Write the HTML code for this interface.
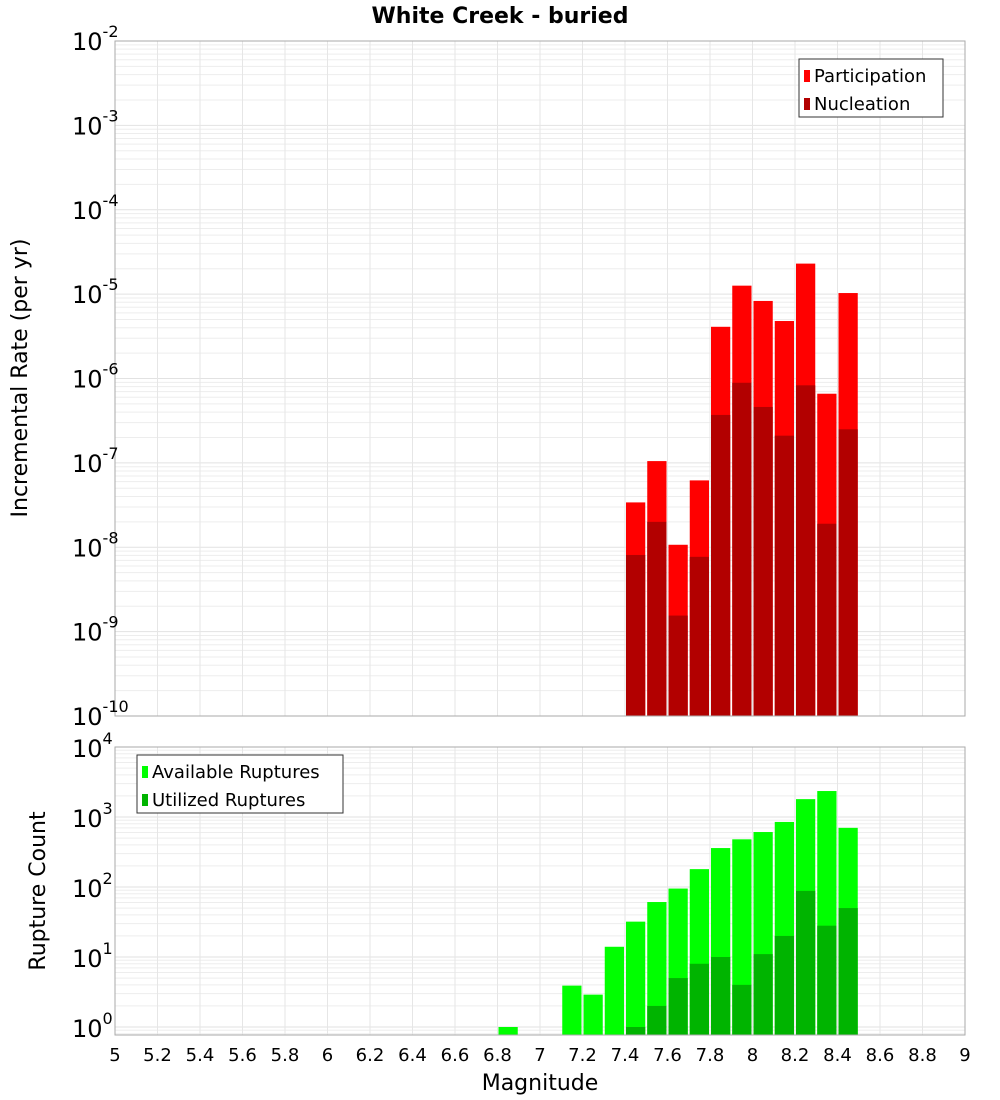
<!DOCTYPE html>
<html><head><meta charset="utf-8"><style>
body{margin:0;background:#fff;width:1000px;height:1100px;overflow:hidden}
svg{display:block;font-family:"DejaVu Sans","Liberation Sans",sans-serif}
</style></head><body>
<svg id="chart" width="1000" height="1100" xmlns="http://www.w3.org/2000/svg">
<text x="500" y="23" text-anchor="middle" font-size="22" font-weight="bold">White Creek - buried</text>
<text transform="translate(27,378) rotate(-90)" text-anchor="middle" font-size="22">Incremental Rate (per yr)</text>
<text transform="translate(45,891) rotate(-90)" text-anchor="middle" font-size="22">Rupture Count</text>
<text x="540" y="1090" text-anchor="middle" font-size="22">Magnitude</text>
</svg>
<script>
const mags=[7.45,7.55,7.65,7.75,7.85,7.95,8.05,8.15,8.25,8.35,8.45];
const participation=[3.4e-8,1.05e-7,1.07e-8,6.2e-8,4.1e-6,1.26e-5,8.3e-6,4.8e-6,2.3e-5,6.6e-7,1.03e-5];
const nucleation=[8.1e-9,2e-8,1.55e-9,7.7e-9,3.7e-7,8.9e-7,4.6e-7,2.1e-7,8.3e-7,1.9e-8,2.5e-7];
const countMags=[6.85,7.15,7.25,7.35,7.45,7.55,7.65,7.75,7.85,7.95,8.05,8.15,8.25,8.35,8.45];
const available=[1,3.9,2.9,14,32,61,95,180,360,480,610,850,1800,2350,700];
const utilMags=[7.45,7.55,7.65,7.75,7.85,7.95,8.05,8.15,8.25,8.35,8.45];
const utilized=[1,2,5,8,10,4,11,20,88,28,50];
const xTicks=[5,5.2,5.4,5.6,5.8,6,6.2,6.4,6.6,6.8,7,7.2,7.4,7.6,7.8,8,8.2,8.4,8.6,8.8,9];
const topDecades=[-2,-3,-4,-5,-6,-7,-8,-9,-10];
const botDecades=[4,3,2,1,0];

const NS="http://www.w3.org/2000/svg";
const svg=document.getElementById('chart');
const X0=115,X1=965;
const x=m=>X0+(m-5)/4*(X1-X0);
const T={top:41,bot:716,min:-10,max:-2};
const B={top:747,bot:1035,max:4,ppd:70};
const yT=v=>T.top+(T.max-Math.log10(v))*(T.bot-T.top)/(T.max-T.min);
const yB=v=>Math.min(B.bot,B.top+(B.max-Math.log10(v))*B.ppd);
function el(tag,attrs,parent){const e=document.createElementNS(NS,tag);for(const k in attrs)e.setAttribute(k,attrs[k]);(parent||svg).appendChild(e);return e;}

function panel(P,yf,decs,name){
  const g=el('g',{});
  
  
  el('rect',{x:X0,y:P.top,width:X1-X0,height:P.bot-P.top,fill:'#fff'},g);
  const lo=Math.min(...decs)-1,hi=Math.max(...decs);
  for(let d=lo;d<=hi;d++)for(let k=1;k<10;k++){
    const yy=yf(k*Math.pow(10,d));
    if(yy<P.top-0.5||yy>P.bot)continue;
    el('line',{x1:X0,x2:X1,y1:yy,y2:yy,stroke:k==1?'#e2e2e2':'#ededed','stroke-width':1},g);
  }
  xTicks.forEach(t=>el('line',{x1:x(t),x2:x(t),y1:P.top,y2:P.bot,stroke:'#e6e6e6'},g));
  return g;
}
const gT=panel(T,yT,topDecades,'top');
const gB=panel(B,yB,botDecades,'bottom');

function bars(ms,vals,yf,P,color,name){
  ms.forEach((m,i)=>{
    const yy=yf(vals[i]);
    const r=el('rect',{x:x(m-0.05)+1,y:yy,width:x(m+0.05)-x(m-0.05)-2,height:P.bot-yy,fill:color});
    
    
  });
}
bars(mags,participation,yT,T,'#ff0000','participation');
bars(mags,nucleation,yT,T,'#b20000','nucleation');
bars(countMags,available,yB,B,'#00ff00','available');
bars(utilMags,utilized,yB,B,'#00b400','utilized');

[T,B].forEach(P=>el('rect',{x:X0,y:P.top,width:X1-X0,height:P.bot-P.top,fill:'none',stroke:'#aaa','stroke-width':1}));

topDecades.forEach(d=>{
  const t=el('text',{x:108,y:yT(Math.pow(10,d))+9,'text-anchor':'end','font-size':24});
  
  
  t.innerHTML='10<tspan dy="-13" font-size="16">'+String(d)+'</tspan>';
  t.setAttribute('x',72);t.setAttribute('text-anchor','start');
});
botDecades.forEach(d=>{
  const t=el('text',{x:72,y:yB(Math.pow(10,d))+10,'font-size':24});
  
  
  t.innerHTML='10<tspan dy="-13" font-size="16">'+d+'</tspan>';
});
xTicks.forEach(t=>{
  const s=el('text',{x:x(t),y:1061,'text-anchor':'middle','font-size':18});
  
  
  s.textContent=String(t);
});

function legend(lx,ly,w,items,name){
  const g=el('g',{});
  
  
  el('rect',{x:lx,y:ly,width:w,height:58,fill:'#fff',stroke:'#333','stroke-width':1},g);
  items.forEach((it,i)=>{
    el('rect',{x:lx+5,y:ly+11+i*28,width:6,height:12,fill:it[1]},g);
    const t=el('text',{x:lx+15,y:ly+23+i*28,'font-size':18},g);
    t.textContent=it[0];
  });
}
legend(799,59,144,[['Participation','#ff0000'],['Nucleation','#b20000']],'top-legend');
legend(137,755,206,[['Available Ruptures','#00ff00'],['Utilized Ruptures','#00b400']],'bottom-legend');
</script>
</body></html>
